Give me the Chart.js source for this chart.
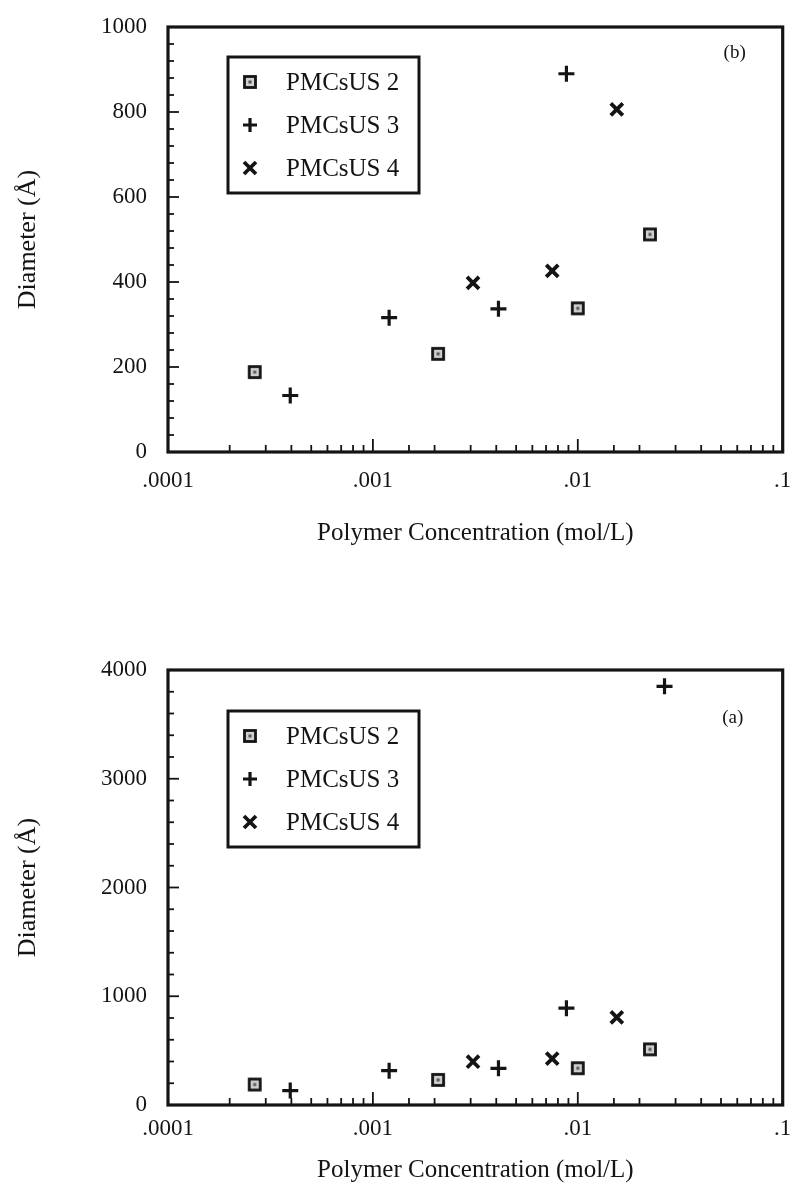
<!DOCTYPE html>
<html>
<head>
<meta charset="utf-8">
<script src="https://cdn.jsdelivr.net/npm/chart.js@4.4.1/dist/chart.umd.min.js"></script>
<style>
  html, body { margin: 0; padding: 0; background: #fff; }
  #wrap { position: relative; width: 795px; height: 1192px; }
  .panel { position: absolute; left: 0; width: 795px; }
</style>
</head>
<body>
<div id="wrap">
  <div class="panel" style="top:0;height:560px"><canvas id="chartB"></canvas></div>
  <div class="panel" style="top:560px;height:632px"><canvas id="chartA"></canvas></div>
</div>
<script>
// values (concentration mol/L, diameter in Å)
const seriesNames = ['PMCsUS 2', 'PMCsUS 3', 'PMCsUS 4'];
const pmc2Conc = [0.000265, 0.00208, 0.0100, 0.0225];
const pmc2Diam = [188, 231, 338, 512];
const pmc3Conc = [0.000395, 0.00120, 0.00410, 0.00880, 0.0265];
const pmc3Diam = [133, 316, 337, 890, 3850];
const pmc4Conc = [0.00308, 0.00750, 0.0155];
const pmc4Diam = [398, 426, 806];
const xTickLabels = ['.0001', '.001', '.01', '.1'];

const INK = '#141414';
const SERIF = "'Liberation Serif', 'Times New Roman', serif";

// boxed square marker (square with a small dot inside)
function makeSquareMarker() {
    const c = document.createElement('canvas');
    c.width = 16; c.height = 16;
    const g = c.getContext('2d');
    g.fillStyle = '#cfcfcf';
    g.fillRect(2, 2, 12, 12);
    g.strokeStyle = INK;
    g.lineWidth = 2.8;
    g.strokeRect(2.5, 2.5, 11, 11);
    g.fillStyle = '#555';
    g.fillRect(6.5, 6.5, 3, 3);
    return c;
}
const squareMarker = makeSquareMarker();

function pairs(xs, ys, maxY) {
    const out = [];
    xs.forEach((x, i) => { if (ys[i] <= maxY) out.push({ x: x, y: ys[i] }); });
    return out;
}

function buildDatasets(maxY) {
    return [
        { label: seriesNames[0], data: pairs(pmc2Conc, pmc2Diam, maxY), pointStyle: squareMarker,
          pointRadius: 7, borderColor: INK, backgroundColor: INK },
        { label: seriesNames[1], data: pairs(pmc3Conc, pmc3Diam, maxY), pointStyle: 'cross',
          pointRadius: 8, borderWidth: 3.2, borderColor: INK, backgroundColor: INK },
        { label: seriesNames[2], data: pairs(pmc4Conc, pmc4Diam, maxY), pointStyle: 'crossRot',
          pointRadius: 8.5, borderWidth: 3.8, borderColor: INK, backgroundColor: INK }
    ];
}

function drawMarker(ctx, style, x, y) {
    if (style instanceof HTMLCanvasElement) {
        ctx.drawImage(style, x - style.width / 2, y - style.height / 2);
        return;
    }
    ctx.beginPath();
    if (style === 'cross') {
        ctx.lineWidth = 3.2;
        ctx.moveTo(x - 7, y); ctx.lineTo(x + 7, y);
        ctx.moveTo(x, y - 7); ctx.lineTo(x, y + 7);
    } else {
        ctx.lineWidth = 3.8;
        ctx.moveTo(x - 6, y - 6); ctx.lineTo(x + 6, y + 6);
        ctx.moveTo(x + 6, y - 6); ctx.lineTo(x - 6, y + 6);
    }
    ctx.stroke();
}

// frame, inward tick marks, boxed legend and panel letter
const figureDecor = {
    id: 'figureDecor',
    afterDraw(chart, args, opts) {
        const { ctx, chartArea: a, scales: { x, y } } = chart;
        ctx.save();
        ctx.strokeStyle = INK;
        ctx.fillStyle = INK;

        ctx.lineWidth = 1.8;
        x.ticks.forEach(t => {
            const px = x.getPixelForValue(t.value);
            const lg = Math.log10(t.value);
            const len = Math.abs(lg - Math.round(lg)) < 1e-6 ? 13 : 7;
            ctx.beginPath();
            ctx.moveTo(px, a.bottom);
            ctx.lineTo(px, a.bottom - len);
            ctx.stroke();
        });
        y.ticks.forEach(t => {
            const py = y.getPixelForValue(t.value);
            const len = t.value % opts.yMajor === 0 ? 11 : 6;
            ctx.beginPath();
            ctx.moveTo(a.left, py);
            ctx.lineTo(a.left + len, py);
            ctx.stroke();
        });

        ctx.lineWidth = 3.2;
        ctx.strokeRect(a.left, a.top, a.right - a.left, a.bottom - a.top);

        // legend box
        const lx = a.left + opts.legendX, ly = a.top + opts.legendY;
        ctx.lineWidth = 3;
        ctx.strokeRect(lx, ly, 191, 136);
        ctx.font = '25px ' + SERIF;
        ctx.textBaseline = 'middle';
        ctx.textAlign = 'left';
        const rows = [25, 68, 111];
        chart.data.datasets.forEach((ds, i) => {
            drawMarker(ctx, ds.pointStyle, lx + 22, ly + rows[i]);
            ctx.fillText(ds.label, lx + 58, ly + rows[i] + 1);
        });

        ctx.font = '19px ' + SERIF;
        ctx.textAlign = 'center';
        ctx.fillText(opts.panel, a.right - opts.panelDX, a.top + opts.panelDY);
        ctx.restore();
    }
};

function makeChart(id, maxY, stepY, majorY, padTop, xHeight, tickPad, titlePad, decor) {
    return new Chart(document.getElementById(id), {
        type: 'scatter',
        data: { datasets: buildDatasets(maxY) },
        options: {
            responsive: true,
            maintainAspectRatio: false,
            animation: false,
            layout: { padding: { top: padTop, right: 12, bottom: 0, left: 0 } },
            plugins: {
                legend: { display: false },
                tooltip: { enabled: false },
                figureDecor: Object.assign({ yMajor: majorY }, decor)
            },
            scales: {
                x: {
                    type: 'logarithmic',
                    min: 0.0001,
                    max: 0.1,
                    grid: { display: false, drawTicks: false },
                    border: { display: false },
                    afterFit: (s) => {
                        s.height = xHeight;
                        s.paddingLeft = 0;
                        s.paddingRight = 0;
                    },
                    ticks: {
                        autoSkip: false,
                        maxRotation: 0,
                        padding: tickPad,
                        color: INK,
                        font: { family: SERIF, size: 23 },
                        callback: (v) => {
                            const lg = Math.log10(v);
                            if (Math.abs(lg - Math.round(lg)) > 1e-6) return '';
                            return xTickLabels[Math.round(lg) + 4];
                        }
                    },
                    title: {
                        display: true,
                        text: 'Polymer Concentration (mol/L)',
                        color: INK,
                        font: { family: SERIF, size: 25 },
                        padding: { top: 0, bottom: titlePad }
                    }
                },
                y: {
                    min: 0,
                    max: maxY,
                    grid: { display: false, drawTicks: false },
                    border: { display: false },
                    afterFit: (s) => {
                        s.width = 168;
                        s.paddingTop = 0;
                        s.paddingBottom = 0;
                    },
                    ticks: {
                        stepSize: stepY,
                        autoSkip: false,
                        padding: 21,
                        color: INK,
                        font: { family: SERIF, size: 23 },
                        callback: (v) => (v % majorY === 0 ? v : '')
                    },
                    title: {
                        display: true,
                        text: 'Diameter (Å)',
                        color: INK,
                        font: { family: SERIF, size: 26 },
                        padding: { top: 13, bottom: 0 }
                    }
                }
            }
        },
        plugins: [figureDecor]
    });
}

makeChart('chartB', 1000, 40, 200, 27, 108, 15, 12,
    { legendX: 60, legendY: 30, panel: '(b)', panelDX: 48, panelDY: 26 });
makeChart('chartA', 4000, 200, 1000, 110, 87, 10, 7,
    { legendX: 60, legendY: 41, panel: '(a)', panelDX: 50, panelDY: 48 });
</script>
</body>
</html>
